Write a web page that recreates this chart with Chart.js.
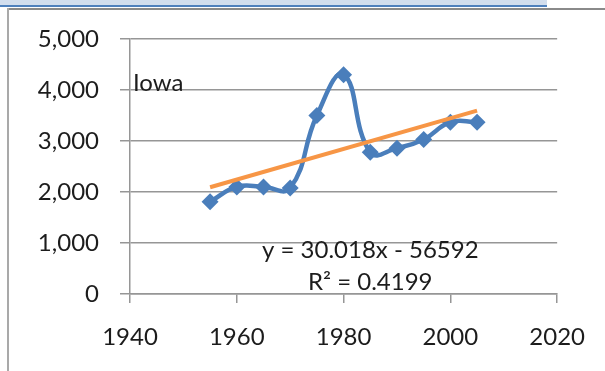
<!DOCTYPE html>
<html>
<head>
<meta charset="utf-8">
<script src="https://cdn.jsdelivr.net/npm/chart.js@4"></script>
<style>
  html, body { margin: 0; padding: 0; background: #ffffff; }
  body { width: 605px; height: 371px; position: relative; overflow: hidden; }
  #wrap { position: absolute; left: 0; top: 0; width: 605px; height: 371px; }
  .band { position: absolute; left: 0; top: 0; width: 547px; height: 5px; background: #d2deee; }
  .bandLine { position: absolute; left: 0; top: 5px; width: 547px; height: 2px; background: #4f81bd; }
  .frameTop { position: absolute; left: 7px; top: 8px; width: 598px; height: 2px; background: #8a8a8a; }
  .frameLeft { position: absolute; left: 7px; top: 8px; width: 2px; height: 363px; background: #a9a9a9; }
</style>
</head>
<body>
<div id="wrap"><canvas id="chart" width="605" height="371"></canvas></div>
<div class="band"></div>
<div class="bandLine"></div>
<div class="frameTop"></div>
<div class="frameLeft"></div>
<script>
// Iowa series, five-year steps
const years = [1955, 1960, 1965, 1970, 1975, 1980, 1985, 1990, 1995, 2000, 2005];
const iowaValues = [1810, 2100, 2100, 2080, 3500, 4300, 2780, 2860, 3030, 3370, 3370];

// Linear trend as stated by its label
const trendSlope = 30.018;
const trendIntercept = -56592;
const trendR2 = 0.4199;
const trendYears = [1955, 2005];

// Axis ticks
const yearTicks = [1940, 1960, 1980, 2000, 2020];
const valueTicks = [0, 1000, 2000, 3000, 4000, 5000];

const seriesName = 'Iowa';
const FONT = 'Lato, "Open Sans", "Liberation Sans", sans-serif';
const TEXT = '#1c1c1c';
const GRID = '#969696';

const iowaPoints = years.map((yr, i) => ({ x: yr, y: iowaValues[i] }));
const trendPoints = trendYears.map(yr => ({ x: yr, y: trendSlope * yr + trendIntercept }));

const fmtInt = v => Number(v).toLocaleString('en-US');
const eqText = 'y = ' + trendSlope.toFixed(3) + 'x - ' + Math.abs(trendIntercept);
const r2Text = 'R\u00B2 = ' + trendR2.toFixed(4);

// Series name and trend equation written into the plot
const notes = {
  id: 'notes',
  afterDatasetsDraw(chart) {
    const { ctx, chartArea, scales } = chart;
    const xs = scales.x, ys = scales.y;
    ctx.save();
    ctx.fillStyle = TEXT;
    ctx.font = '24px ' + FONT;
    ctx.textBaseline = 'alphabetic';
    ctx.textAlign = 'left';
    ctx.fillText(seriesName, chartArea.left + 3, ys.getPixelForValue(4000) + 1);
    ctx.textAlign = 'center';
    const cx = xs.getPixelForValue(1985);
    const base = ys.getPixelForValue(0);
    ctx.fillText(eqText, cx, base - 36);
    ctx.fillText(r2Text, cx, base - 4);
    ctx.restore();
  }
};

new Chart(document.getElementById('chart'), {
  type: 'scatter',
  data: {
    datasets: [
      {
        label: 'Linear (' + seriesName + ')',
        data: trendPoints,
        showLine: true,
        borderColor: '#f79646',
        borderWidth: 4,
        pointRadius: 0,
        pointHoverRadius: 0,
        tension: 0,
        order: 0
      },
      {
        label: seriesName,
        data: iowaPoints,
        showLine: true,
        borderColor: '#4a7ebb',
        backgroundColor: '#4a7ebb',
        borderWidth: 4.5,
        pointStyle: 'rectRot',
        pointRadius: 8.5,
        pointBorderWidth: 0,
        pointBackgroundColor: '#4a7ebb',
        tension: 0.45,
        order: 1
      }
    ]
  },
  options: {
    responsive: false,
    animation: false,
    devicePixelRatio: 1,
    layout: { padding: { top: 39, right: 43, left: 0, bottom: 0 } },
    plugins: {
      legend: { display: false },
      tooltip: { enabled: false }
    },
    scales: {
      x: {
        type: 'linear',
        min: yearTicks[0],
        max: yearTicks[yearTicks.length - 1],
        afterBuildTicks: s => { s.ticks = yearTicks.map(v => ({ value: v })); },
        afterFit: s => { s.height = 77; },
        grid: {
          drawOnChartArea: false,
          drawTicks: true,
          tickLength: 9,
          color: GRID,
          lineWidth: 1.5
        },
        border: { display: true, color: GRID, width: 1.5 },
        ticks: {
          color: TEXT,
          font: { family: FONT, size: 24 },
          padding: 20,
          maxRotation: 0,
          autoSkip: false,
          callback: v => String(v)
        }
      },
      y: {
        type: 'linear',
        min: valueTicks[0],
        max: valueTicks[valueTicks.length - 1],
        afterBuildTicks: s => { s.ticks = valueTicks.map(v => ({ value: v })); },
        afterFit: s => { s.width = 130; },
        grid: {
          drawOnChartArea: true,
          drawTicks: true,
          tickLength: 10,
          color: GRID,
          lineWidth: 1.5
        },
        border: { display: true, color: GRID, width: 1.5 },
        ticks: {
          color: TEXT,
          font: { family: FONT, size: 24 },
          padding: 21,
          callback: v => fmtInt(v)
        }
      }
    }
  },
  plugins: [notes]
});
</script>
</body>
</html>
